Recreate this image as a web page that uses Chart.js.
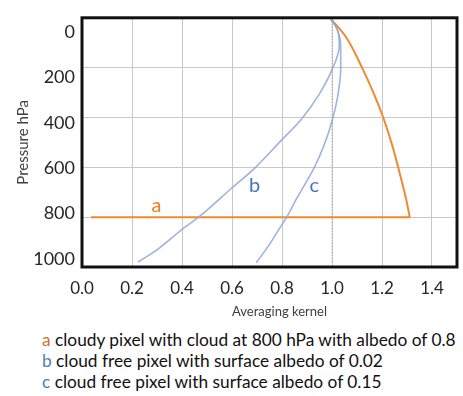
<!DOCTYPE html>
<html>
<head>
<meta charset="utf-8">
<script src="https://cdn.jsdelivr.net/npm/chart.js@4.4.1/dist/chart.umd.min.js"></script>
<style>
  html, body { margin: 0; padding: 0; background: #fff; }
  #wrap { position: relative; width: 463px; height: 396px; font-family: Lato, sans-serif; }
  #box { position: absolute; left: 0; top: 0; width: 463px; height: 320px; }
  #notes { position: absolute; left: 42px; top: 329px; font-size: 17.3px; line-height: 21px; color: #111; }
  .ca { color: #d9702a; }
  .cb { color: #4a7ebb; }
</style>
</head>
<body>
<div id="wrap">
  <div id="box"><canvas id="akChart"></canvas></div>
  <div id="notes">
    <div><span class="ca">a</span> cloudy pixel with cloud at 800 hPa with albedo of 0.8</div>
    <div><span class="cb">b</span> cloud free pixel with surface albedo of 0.02</div>
    <div><span class="cb">c</span> cloud free pixel with surface albedo of 0.15</div>
  </div>
</div>
<script>
  // tick values / labels
  const xTickValues = [0, 0.2, 0.4, 0.6, 0.8, 1.0, 1.2, 1.4];
  const xTickLabels = ['0.0', '0.2', '0.4', '0.6', '0.8', '1.0', '1.2', '1.4'];
  const yTickValues = [0, 200, 400, 600, 800, 1000];
  const yTickLabels = ['0', '200', '400', '600', '800', '1000'];

  // curve a: cloud at 800 hPa (flat part + curve above the cloud)
  const aFlatKernel = [0.036, 1.311];
  const aFlatPressure = [800, 800];
  const aKernel = [1.311, 1.297, 1.275, 1.241, 1.205, 1.168, 1.122, 1.055, 0.996];
  const aPressure = [800, 730, 640, 512, 400, 306, 204, 76, 5];

  // curve b: surface albedo 0.02
  const bKernel = [0.225, 0.304, 0.398, 0.471, 0.597, 0.690, 0.797, 0.876, 0.949, 1.002, 1.029, 1.026, 1.009, 0.996];
  const bPressure = [980, 928, 851, 796, 685, 604, 492, 409, 306, 204, 114, 63, 24, 9];

  // curve c: surface albedo 0.15
  const cKernel = [0.697, 0.750, 0.790, 0.819, 0.856, 0.929, 0.968, 1.000, 1.022, 1.035, 1.035, 1.022, 1.002];
  const cPressure = [983, 909, 845, 800, 730, 601, 512, 415, 319, 204, 114, 50, 12];

  // reference line at kernel = 1
  const refKernel = [1.0, 1.0];
  const refPressure = [12, 980];

  // curve letters
  const letterText = ['a', 'b', 'c'];
  const letterKernel = [0.298, 0.690, 0.929];
  const letterPressure = [755, 672, 672];
  const letterColor = ['#ef7d22', '#4472c4', '#4472c4'];

  const pts = (xs, ys) => xs.map((x, i) => ({ x: x, y: ys[i] }));

  const ORANGE = '#f08a30';
  const BLUE = 'rgba(140,168,214,0.85)';

  const framePlugin = {
    id: 'frame',
    afterDatasetsDraw(chart) {
      const { ctx, scales } = chart;
      ctx.save();
      ctx.font = '20px Lato, sans-serif';
      ctx.textAlign = 'center';
      ctx.textBaseline = 'middle';
      letterText.forEach((t, i) => {
        ctx.fillStyle = letterColor[i];
        ctx.fillText(t, scales.x.getPixelForValue(letterKernel[i]), scales.y.getPixelForValue(letterPressure[i]));
      });
      ctx.restore();
    },
    afterDraw(chart) {
      const { ctx, chartArea: a } = chart;
      ctx.save();
      ctx.strokeStyle = '#111';
      ctx.lineWidth = 3;
      ctx.strokeRect(a.left, a.top, a.right - a.left, a.bottom - a.top);
      // x axis title sits a bit right of centre in the original
      ctx.font = '13px Lato, sans-serif';
      ctx.fillStyle = '#404040';
      ctx.textAlign = 'center';
      ctx.textBaseline = 'middle';
      ctx.fillText('Averaging kernel', (a.left + a.right) / 2 + 10, a.bottom + 45);
      ctx.restore();
    }
  };

  const lineDs = (data, color, width, extra) => Object.assign({
    data: data,
    showLine: true,
    borderColor: color,
    backgroundColor: color,
    borderWidth: width,
    pointRadius: 0,
    fill: false,
    indexAxis: 'y',
    cubicInterpolationMode: 'monotone'
  }, extra || {});

  const straight = { tension: 0, cubicInterpolationMode: 'default' };

  new Chart(document.getElementById('akChart'), {
    type: 'scatter',
    data: {
      datasets: [
        lineDs(pts(refKernel, refPressure), '#9a9a9a', 1, Object.assign({ borderDash: [1, 2] }, straight)),
        lineDs(pts(bKernel, bPressure), BLUE, 1.6),
        lineDs(pts(cKernel, cPressure), BLUE, 1.6),
        lineDs(pts(aFlatKernel, aFlatPressure), ORANGE, 2, straight),
        lineDs(pts(aKernel, aPressure), ORANGE, 2)
      ]
    },
    options: {
      responsive: true,
      maintainAspectRatio: false,
      animation: false,
      layout: { padding: { top: 7, right: 6, left: 0, bottom: 0 } },
      plugins: { legend: { display: false }, tooltip: { enabled: false } },
      scales: {
        x: {
          type: 'linear',
          min: 0,
          max: 1.5,
          afterBuildTicks: s => { s.ticks = xTickValues.map(v => ({ value: v })); },
          afterFit: s => { s.height = 53; },
          border: { display: false },
          grid: { color: '#c8c8c8', lineWidth: 1, drawTicks: false },
          ticks: {
            padding: 11,
            color: '#262626',
            font: { family: 'Lato', size: 17 },
            maxRotation: 0,
            callback: (v, i) => xTickLabels[i]
          }
        },
        // grid + data axis (no labels)
        y: {
          type: 'linear',
          position: 'left',
          reverse: true,
          min: 0,
          max: 1000,
          afterBuildTicks: s => { s.ticks = yTickValues.map(v => ({ value: v })); },
          afterFit: s => { s.width = 0; },
          border: { display: false },
          grid: { color: '#c8c8c8', lineWidth: 1, drawTicks: false },
          ticks: { display: false }
        },
        // label axis, placed like the pasted labels of the original
        yLab: {
          type: 'linear',
          position: 'left',
          reverse: true,
          min: -62,
          max: 1035,
          afterBuildTicks: s => { s.ticks = yTickValues.map(v => ({ value: v })); },
          afterFit: s => { s.width = 82; },
          border: { display: false },
          grid: { display: false, drawTicks: false },
          ticks: {
            padding: 7,
            color: '#262626',
            font: { family: 'Lato', size: 18 },
            callback: (v, i) => yTickLabels[i]
          },
          title: {
            display: true,
            text: 'Pressure hPa',
            color: '#404040',
            font: { family: 'Lato', size: 15 },
            padding: { top: 14, bottom: 0 }
          }
        }
      }
    },
    plugins: [framePlugin]
  });
</script>
</body>
</html>
